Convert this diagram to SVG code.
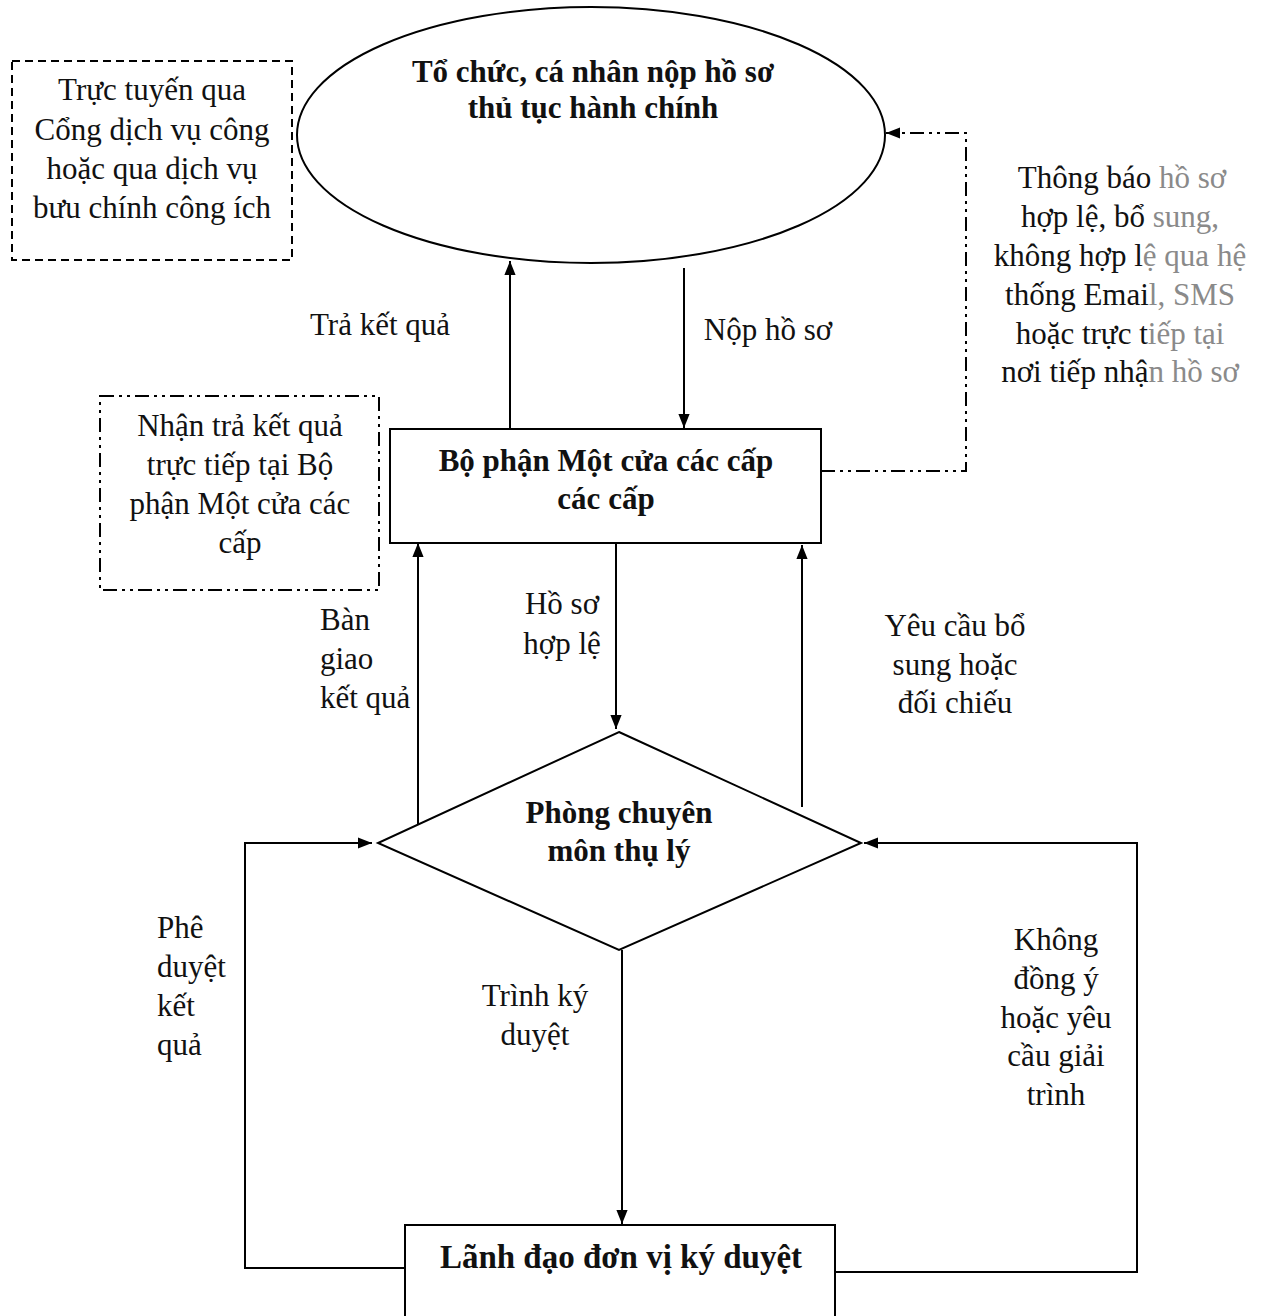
<svg xmlns="http://www.w3.org/2000/svg" width="1263" height="1316" viewBox="0 0 1263 1316">
<style>
.shape{fill:#fff;stroke:#000;stroke-width:2}
.t{font-family:"Liberation Serif","Times New Roman",serif;font-size:31px;fill:#111;text-anchor:middle}
.b{font-weight:bold}
.l{text-anchor:start}
.g{fill:#8a8a8a}
.ln{fill:none;stroke:#000;stroke-width:2}
.dd{fill:none;stroke:#000;stroke-width:2;stroke-dasharray:14 5 3 5 3 5}
</style>
<defs>
<marker id="ah2" viewBox="0 0 10 10" refX="10" refY="5" markerWidth="14" markerHeight="14" markerUnits="userSpaceOnUse" orient="auto">
<path d="M0,1 L10,5 L0,9 z" fill="#000"/>
</marker>
</defs>
<rect width="1263" height="1316" fill="#fff"/>

<g id="note-online">
<rect x="12" y="61" width="280" height="199" fill="none" stroke="#000" stroke-width="2" stroke-dasharray="8 5"/>
<text class="t" x="152" y="100">Trực tuyến qua</text>
<text class="t" x="152" y="140">Cổng dịch vụ công</text>
<text class="t" x="152" y="179">hoặc qua dịch vụ</text>
<text class="t" x="152" y="218">bưu chính công ích</text>
</g>

<g id="node-applicant">
<ellipse class="shape" cx="591" cy="135" rx="294" ry="128"/>
<text class="t b" x="593" y="82">Tổ chức, cá nhân nộp hồ sơ</text>
<text class="t b" x="593" y="118">thủ tục hành chính</text>
</g>

<g id="note-notify">
<text class="t" x="1122" y="188">Thông báo<tspan class="g"> hồ sơ</tspan></text>
<text class="t" x="1120" y="227">hợp lệ, bổ <tspan class="g"> sung,</tspan></text>
<text class="t" x="1120" y="266">không hợp l<tspan class="g">ệ qua hệ</tspan></text>
<text class="t" x="1120" y="305">thống Emai<tspan class="g">l, SMS</tspan></text>
<text class="t" x="1120" y="344">hoặc trực t<tspan class="g">iếp tại</tspan></text>
<text class="t" x="1120" y="382">nơi tiếp nhậ<tspan class="g">n hồ sơ</tspan></text>
</g>

<g id="labels">
<text class="t" x="380" y="335">Trả kết quả</text>
<text class="t" x="768" y="340">Nộp hồ sơ</text>
<text class="t l" x="320" y="630">Bàn</text>
<text class="t l" x="320" y="669">giao</text>
<text class="t l" x="320" y="708">kết quả</text>
<text class="t" x="562" y="614">Hồ sơ</text>
<text class="t" x="562" y="654">hợp lệ</text>
<text class="t" x="955" y="636">Yêu cầu bổ</text>
<text class="t" x="955" y="675">sung hoặc</text>
<text class="t" x="955" y="713">đối chiếu</text>
<text class="t l" x="157" y="938">Phê</text>
<text class="t l" x="157" y="977">duyệt</text>
<text class="t l" x="157" y="1016">kết</text>
<text class="t l" x="157" y="1055">quả</text>
<text class="t" x="535" y="1006">Trình ký</text>
<text class="t" x="535" y="1045">duyệt</text>
<text class="t" x="1056" y="950">Không</text>
<text class="t" x="1056" y="989">đồng ý</text>
<text class="t" x="1056" y="1028">hoặc yêu</text>
<text class="t" x="1056" y="1066">cầu giải</text>
<text class="t" x="1056" y="1105">trình</text>
</g>

<g id="node-onestop">
<rect class="shape" x="390" y="429" width="431" height="114"/>
<text class="t b" x="606" y="471">Bộ phận Một cửa các cấp</text>
<text class="t b" x="606" y="509">các cấp</text>
</g>

<g id="note-receive">
<rect x="100" y="396" width="279" height="194" class="dd"/>
<text class="t" x="240" y="436">Nhận trả kết quả</text>
<text class="t" x="240" y="475">trực tiếp tại Bộ</text>
<text class="t" x="240" y="514">phận Một cửa các</text>
<text class="t" x="240" y="553">cấp</text>
</g>

<g id="node-dept">
<polygon class="shape" points="619,732 861,843 619,950 378,843"/>
<text class="t b" x="619" y="823">Phòng chuyên</text>
<text class="t b" x="619" y="861">môn thụ lý</text>
</g>

<g id="node-leader">
<rect class="shape" x="405" y="1225" width="430" height="100"/>
<text class="t b" x="621" y="1268" style="font-size:33px">Lãnh đạo đơn vị ký duyệt</text>
</g>

<g id="connectors">
<line class="ln" x1="510" y1="428" x2="510" y2="261" marker-end="url(#ah2)"/>
<line class="ln" x1="684" y1="268" x2="684" y2="428" marker-end="url(#ah2)"/>
<polyline class="dd" points="821,471 966,471 966,133 886,133" marker-end="url(#ah2)"/>
<line class="ln" x1="418" y1="824" x2="418" y2="543" marker-end="url(#ah2)"/>
<line class="ln" x1="616" y1="543" x2="616" y2="729" marker-end="url(#ah2)"/>
<line class="ln" x1="802" y1="807" x2="802" y2="545" marker-end="url(#ah2)"/>
<line class="ln" x1="622" y1="950" x2="622" y2="1224" marker-end="url(#ah2)"/>
<polyline class="ln" points="405,1268 245,1268 245,843 372,843" marker-end="url(#ah2)"/>
<polyline class="ln" points="835,1272 1137,1272 1137,843 864,843" marker-end="url(#ah2)"/>
</g>
</svg>
